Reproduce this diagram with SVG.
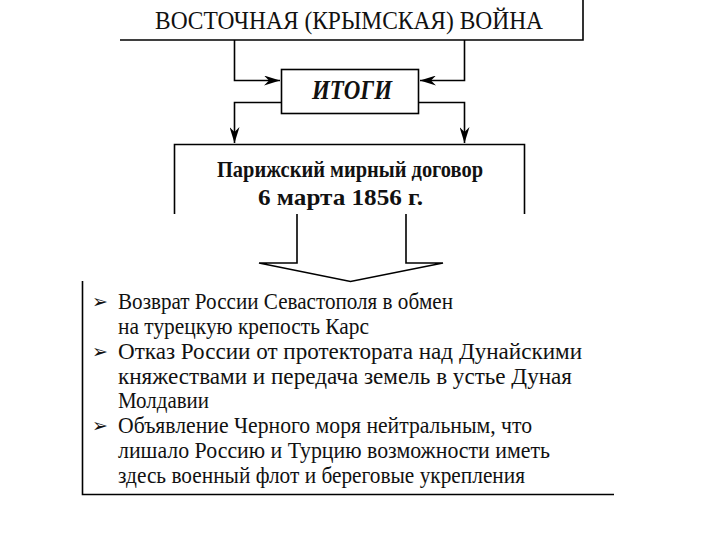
<svg xmlns="http://www.w3.org/2000/svg" width="720" height="540" viewBox="0 0 720 540">
<style>
.ln{fill:none;stroke:#000;stroke-width:1.6}
.t{font-family:"Liberation Serif","Times New Roman",serif;fill:#111}
.item{font-size:24px}
.bul{font-family:"DejaVu Sans",sans-serif;font-size:19px;fill:#111}
</style>
<defs>
<marker id="ah" viewBox="0 0 16 10" refX="16" refY="5" markerWidth="16" markerHeight="10" markerUnits="userSpaceOnUse" orient="auto">
<path d="M0,0 L16,5 L0,10 L5,5 Z" fill="#000"/>
</marker>
</defs>
<rect width="720" height="540" fill="#fff"/>
<g id="war">
<path class="ln" d="M120,40 H583 V0"/>
<text class="t" x="349" y="29" font-size="25" text-anchor="middle" textLength="388" lengthAdjust="spacingAndGlyphs">ВОСТОЧНАЯ (КРЫМСКАЯ) ВОЙНА</text>
</g>
<g id="itogi">
<rect class="ln" x="281.5" y="69.5" width="137" height="44"/>
<text class="t" x="352" y="99" font-size="28" font-weight="bold" font-style="italic" text-anchor="middle" textLength="80" lengthAdjust="spacingAndGlyphs">ИТОГИ</text>
</g>
<g id="treaty">
<path class="ln" d="M174.5,214 V144.5 H524.5 V214"/>
<text class="t" x="350" y="177" font-size="24" font-weight="bold" text-anchor="middle" textLength="266" lengthAdjust="spacingAndGlyphs">Парижский мирный договор</text>
<text class="t" x="340.5" y="205" font-size="24" font-weight="bold" text-anchor="middle" textLength="165" lengthAdjust="spacingAndGlyphs">6 марта 1856 г.</text>
</g>
<g id="connectors">
<path class="ln" d="M234.5,40 V80.5 H280" marker-end="url(#ah)"/>
<path class="ln" d="M464.5,40 V80.5 H420" marker-end="url(#ah)"/>
<path class="ln" d="M281.5,102.5 H234.5 V143" marker-end="url(#ah)"/>
<path class="ln" d="M418.5,102.5 H464.5 V143" marker-end="url(#ah)"/>
<path class="ln" d="M297,214 V263 H259 L350.5,281.5 L443,263 H406 V214" stroke-linejoin="miter"/>
</g>
<g id="results">
<path class="ln" d="M82.5,281 V494.5 H614"/>
<text class="bul" x="92" y="308">➢</text>
<text class="t item" x="118" y="309" textLength="335" lengthAdjust="spacingAndGlyphs">Возврат России Севастополя в обмен</text>
<text class="t item" x="118" y="334" textLength="251" lengthAdjust="spacingAndGlyphs">на турецкую крепость Карс</text>
<text class="bul" x="92" y="358">➢</text>
<text class="t item" x="118" y="359" textLength="464" lengthAdjust="spacingAndGlyphs">Отказ России от протектората над Дунайскими</text>
<text class="t item" x="118" y="384" textLength="454" lengthAdjust="spacingAndGlyphs">княжествами и передача земель в устье Дуная</text>
<text class="t item" x="118" y="408" textLength="91" lengthAdjust="spacingAndGlyphs">Молдавии</text>
<text class="bul" x="92" y="432">➢</text>
<text class="t item" x="118" y="433" textLength="414" lengthAdjust="spacingAndGlyphs">Объявление Черного моря нейтральным, что</text>
<text class="t item" x="118" y="458" textLength="432" lengthAdjust="spacingAndGlyphs">лишало Россию и Турцию возможности иметь</text>
<text class="t item" x="118" y="483" textLength="407" lengthAdjust="spacingAndGlyphs">здесь военный флот и береговые укрепления</text>
</g>
</svg>
